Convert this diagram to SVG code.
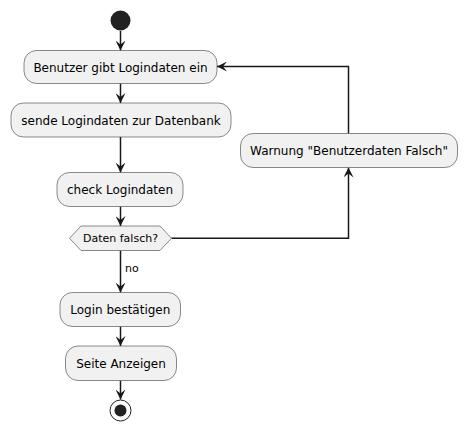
<svg xmlns="http://www.w3.org/2000/svg" width="467" height="432" viewBox="0 0 467 432">
<defs>
<style>
.box{fill:#F1F1F1;stroke:#181818;stroke-width:0.5}
.t{font-family:"DejaVu Sans",sans-serif;font-size:12px;fill:#000;text-anchor:middle}
.s{font-family:"DejaVu Sans",sans-serif;font-size:11px;fill:#000}
.ln{fill:none;stroke:#181818;stroke-width:1.5}
</style>
<marker id="ah" viewBox="0 0 10 10" refX="10" refY="5" markerWidth="10" markerHeight="10" markerUnits="userSpaceOnUse" orient="auto">
<polygon points="0,0 10,5 0,10 4,5" fill="#181818"/>
</marker>
</defs>
<rect width="467" height="432" fill="#FFFFFF"/>
<g id="connectors">
<line class="ln" x1="120.5" y1="31" x2="120.5" y2="50.5" marker-end="url(#ah)"/>
<line class="ln" x1="120.5" y1="83.5" x2="120.5" y2="103" marker-end="url(#ah)"/>
<line class="ln" x1="120.5" y1="137" x2="120.5" y2="172.5" marker-end="url(#ah)"/>
<line class="ln" x1="120.5" y1="206.5" x2="120.5" y2="226" marker-end="url(#ah)"/>
<line class="ln" x1="120.5" y1="250.5" x2="120.5" y2="292.5" marker-end="url(#ah)"/>
<text class="s" x="125" y="272">no</text>
<line class="ln" x1="120.5" y1="326.5" x2="120.5" y2="346" marker-end="url(#ah)"/>
<line class="ln" x1="120.5" y1="380.5" x2="120.5" y2="399.5" marker-end="url(#ah)"/>
<polyline class="ln" points="171.5,238.3 348.5,238.3 348.5,167.5" marker-end="url(#ah)"/>
<polyline class="ln" points="348.5,133.5 348.5,66.5 217,66.5" marker-end="url(#ah)"/>
</g>
<g id="start"><circle cx="120.5" cy="20.5" r="10" fill="#222222"/></g>
<g id="n1"><rect class="box" x="24" y="50.5" width="193" height="33" rx="12.5"/><text class="t" x="120.5" y="71.5">Benutzer gibt Logindaten ein</text></g>
<g id="n2"><rect class="box" x="11" y="103" width="220" height="34" rx="12.5"/><text class="t" x="121" y="124.5">sende Logindaten zur Datenbank</text></g>
<g id="n3"><rect class="box" x="57" y="172.5" width="126" height="34" rx="12.5"/><text class="t" x="120" y="194">check Logindaten</text></g>
<g id="d1"><polygon class="box" points="69.5,238.3 81,226 160,226 171.5,238.3 160,250.5 81,250.5"/><text class="s" x="120.5" y="242.3" text-anchor="middle">Daten falsch?</text></g>
<g id="n4"><rect class="box" x="240.5" y="133.5" width="217" height="34" rx="12.5"/><text class="t" x="349" y="155">Warnung "Benutzerdaten Falsch"</text></g>
<g id="n5"><rect class="box" x="60" y="292.5" width="120.5" height="34" rx="12.5"/><text class="t" x="120.3" y="314">Login bestätigen</text></g>
<g id="n6"><rect class="box" x="65.5" y="346" width="111" height="34.5" rx="12.5"/><text class="t" x="121" y="367.5">Seite Anzeigen</text></g>
<g id="end"><circle cx="120.5" cy="410.5" r="10.5" fill="none" stroke="#222222" stroke-width="1"/><circle cx="120.5" cy="410.5" r="6" fill="#222222"/></g>
</svg>
